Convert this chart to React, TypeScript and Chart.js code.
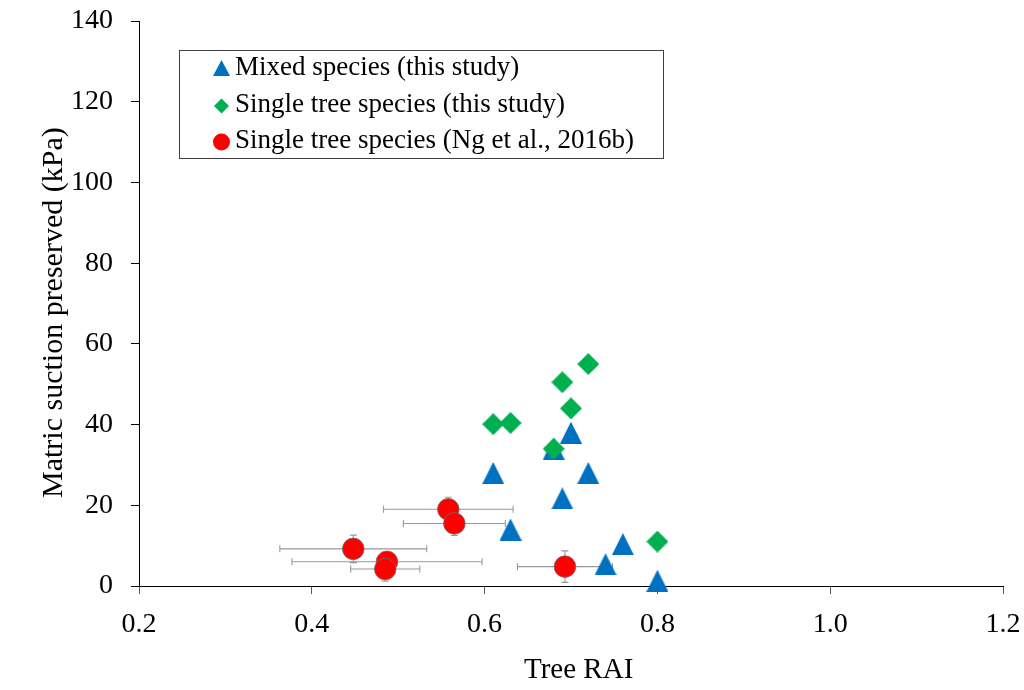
import React, { useEffect, useRef } from "react";
import { Chart, registerables } from "chart.js";

Chart.register(...registerables);

// Mixed species (this study)
const mixedRAI = [0.61, 0.63, 0.68, 0.7, 0.69, 0.72, 0.76, 0.74, 0.8];
const mixedSuction = [28, 14, 34, 38, 21.7, 28, 10.4, 5.4, 1.3];

// Single tree species (this study)
const singleRAI = [0.61, 0.63, 0.68, 0.7, 0.69, 0.72, 0.8];
const singleSuction = [40.1, 40.4, 34, 44, 50.5, 55, 11];

// Single tree species (Ng et al., 2016b), with error ranges
const ngRAI = [0.558, 0.565, 0.448, 0.487, 0.485, 0.693];
const ngSuction = [19.0, 15.5, 9.2, 6.0, 4.2, 4.8];
const ngRAIErr = [0.075, 0.059, 0.085, 0.11, 0.04, 0.055];
const ngSuctionErr = [3, 3, 3.4, 2, 3, 3.9];

const seriesLabels = [
  "Mixed species (this study)",
  "Single tree species (this study)",
  "Single tree species (Ng et al., 2016b)",
];

const xTicks = [0.2, 0.4, 0.6, 0.8, 1.0, 1.2];
const yTicks = [0, 20, 40, 60, 80, 100, 120, 140];

const BLUE = "#0070C0";
const GREEN = "#00B050";
const RED = "#FF0000";
const SERIF = "'Liberation Serif', 'Times New Roman', serif";

function triangleImage(size: number, color: string) {
  const c = document.createElement("canvas");
  c.width = size;
  c.height = size;
  const g = c.getContext("2d")!;
  g.fillStyle = color;
  g.beginPath();
  g.moveTo(size / 2, 0);
  g.lineTo(size, size);
  g.lineTo(0, size);
  g.closePath();
  g.fill();
  return c;
}

function diamondImage(size: number, color: string) {
  const c = document.createElement("canvas");
  c.width = size;
  c.height = size;
  const g = c.getContext("2d")!;
  g.fillStyle = color;
  g.beginPath();
  g.moveTo(size / 2, 0);
  g.lineTo(size, size / 2);
  g.lineTo(size / 2, size);
  g.lineTo(0, size / 2);
  g.closePath();
  g.fill();
  return c;
}

// Scales keep no extra label padding so the plot area follows layout.padding
function noScalePadding(s: any) {
  s.paddingTop = 0;
  s.paddingBottom = 0;
  s.paddingLeft = 0;
  s.paddingRight = 0;
}

// Horizontal and vertical error bars for the Ng et al. points
const errorBarPlugin = {
  id: "errorBars",
  beforeDatasetsDraw(chart: any) {
    const { ctx, scales } = chart;
    const xs = scales.x;
    const ys = scales.y;
    ctx.save();
    ctx.strokeStyle = "#999999";
    ctx.lineWidth = 1.1;
    const cap = 3.5;
    ngRAI.forEach((rx, i) => {
      const px = xs.getPixelForValue(rx);
      const py = ys.getPixelForValue(ngSuction[i]);
      const x0 = xs.getPixelForValue(rx - ngRAIErr[i]);
      const x1 = xs.getPixelForValue(rx + ngRAIErr[i]);
      const y0 = ys.getPixelForValue(ngSuction[i] - ngSuctionErr[i]);
      const y1 = ys.getPixelForValue(ngSuction[i] + ngSuctionErr[i]);
      ctx.beginPath();
      ctx.moveTo(x0, py);
      ctx.lineTo(x1, py);
      ctx.moveTo(x0, py - cap);
      ctx.lineTo(x0, py + cap);
      ctx.moveTo(x1, py - cap);
      ctx.lineTo(x1, py + cap);
      ctx.moveTo(px, y0);
      ctx.lineTo(px, y1);
      ctx.moveTo(px - cap, y0);
      ctx.lineTo(px + cap, y0);
      ctx.moveTo(px - cap, y1);
      ctx.lineTo(px + cap, y1);
      ctx.stroke();
    });
    ctx.restore();
  },
};

// Axis titles and the boxed legend
const decorPlugin = {
  id: "decor",
  afterDraw(chart: any) {
    const { ctx } = chart;
    ctx.save();
    ctx.fillStyle = "#000";
    ctx.font = `29px ${SERIF}`;
    ctx.textAlign = "left";
    ctx.textBaseline = "alphabetic";
    ctx.fillText("Tree RAI", 524, 678);

    ctx.save();
    ctx.font = `30px ${SERIF}`;
    ctx.translate(62, 498);
    ctx.rotate(-Math.PI / 2);
    ctx.fillText("Matric suction preserved (kPa)", 0, 0);
    ctx.restore();

    // legend box
    ctx.strokeStyle = "#404040";
    ctx.lineWidth = 1;
    ctx.strokeRect(179.5, 50.5, 484, 108);

    const mx = 221.5;
    const rows = [68, 106, 142];
    // triangle
    ctx.fillStyle = BLUE;
    ctx.beginPath();
    ctx.moveTo(mx, rows[0] - 8);
    ctx.lineTo(mx + 8.5, rows[0] + 8);
    ctx.lineTo(mx - 8.5, rows[0] + 8);
    ctx.closePath();
    ctx.fill();
    // diamond
    ctx.fillStyle = GREEN;
    ctx.beginPath();
    ctx.moveTo(mx, rows[1] - 7.5);
    ctx.lineTo(mx + 7.5, rows[1]);
    ctx.lineTo(mx, rows[1] + 7.5);
    ctx.lineTo(mx - 7.5, rows[1]);
    ctx.closePath();
    ctx.fill();
    // circle
    ctx.fillStyle = RED;
    ctx.beginPath();
    ctx.arc(mx, rows[2], 8.5, 0, Math.PI * 2);
    ctx.fill();

    ctx.fillStyle = "#000";
    ctx.font = `27px ${SERIF}`;
    const baselines = [75, 112, 148];
    seriesLabels.forEach((t, i) => ctx.fillText(t, 235, baselines[i]));
    ctx.restore();
  },
};

export default function App() {
  const canvasRef = useRef<HTMLCanvasElement | null>(null);

  useEffect(() => {
    const canvas = canvasRef.current;
    if (!canvas) return;
    const tri = triangleImage(22, BLUE);
    const dia = diamondImage(22, GREEN);

    const chart = new Chart(canvas, {
      type: "scatter",
      data: {
        datasets: [
          {
            label: seriesLabels[0],
            data: mixedRAI.map((x, i) => ({ x, y: mixedSuction[i] })),
            pointStyle: tri as any,
            backgroundColor: BLUE,
            order: 2,
            clip: false as any,
          },
          {
            label: seriesLabels[1],
            data: singleRAI.map((x, i) => ({ x, y: singleSuction[i] })),
            pointStyle: dia as any,
            backgroundColor: GREEN,
            order: 0,
            clip: false as any,
          },
          {
            label: seriesLabels[2],
            data: ngRAI.map((x, i) => ({ x, y: ngSuction[i] })),
            pointStyle: "circle",
            pointRadius: 10.8,
            backgroundColor: RED,
            borderColor: "rgba(110,110,110,0.8)",
            borderWidth: 1,
            order: 1,
            clip: false as any,
          },
        ],
      },
      options: {
        animation: false,
        responsive: true,
        maintainAspectRatio: false,
        layout: { padding: { top: 21, right: 21, left: 0, bottom: 0 } },
        plugins: {
          legend: { display: false },
          tooltip: { enabled: false },
        },
        scales: {
          x: {
            type: "linear",
            min: 0.2,
            max: 1.2,
            afterFit: (s: any) => {
              s.height = 104;
              noScalePadding(s);
            },
            afterBuildTicks: (s: any) => {
              s.ticks = xTicks.map((v) => ({ value: v }));
            },
            ticks: {
              color: "#000",
              font: { family: SERIF, size: 28 },
              padding: 14,
              maxRotation: 0,
              callback: (v: any) => Number(v).toFixed(1),
            },
            grid: {
              drawOnChartArea: false,
              drawTicks: true,
              tickLength: 8,
              tickColor: "#555",
            },
            border: { display: true, color: "#000", width: 1 },
          },
          y: {
            type: "linear",
            min: 0,
            max: 140,
            afterFit: (s: any) => {
              s.width = 139;
              noScalePadding(s);
            },
            afterBuildTicks: (s: any) => {
              s.ticks = yTicks.map((v) => ({ value: v }));
            },
            ticks: {
              color: "#000",
              font: { family: SERIF, size: 28 },
              padding: 18,
              callback: (v: any) => String(v),
            },
            grid: {
              drawOnChartArea: false,
              drawTicks: true,
              tickLength: 8,
              tickColor: "#000",
            },
            border: { display: true, color: "#000", width: 1 },
          },
        },
      },
      plugins: [errorBarPlugin, decorPlugin],
    });
    return () => chart.destroy();
  }, []);

  return (
    <div
      style={{
        position: "fixed",
        left: 0,
        top: 0,
        width: 1024,
        height: 690,
        background: "#fff",
      }}
    >
      <canvas ref={canvasRef} />
    </div>
  );
}
